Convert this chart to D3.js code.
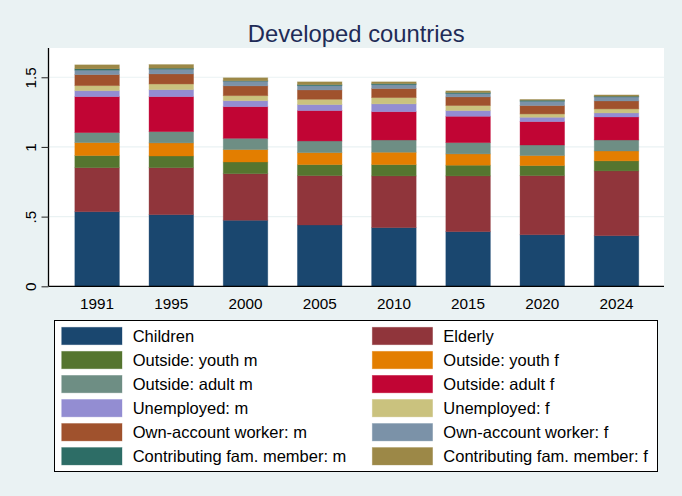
<!DOCTYPE html>
<html>
<head>
<meta charset="utf-8">
<script src="https://cdn.jsdelivr.net/npm/d3@7"></script>
<style>
html,body{margin:0;padding:0;background:#EAF2F3;}
svg{display:block;font-family:"Liberation Sans",Arial,Helvetica,sans-serif;}
</style>
</head>
<body>
<svg id="chart" width="682" height="496"></svg>
<script>
const years = ["1991","1995","2000","2005","2010","2015","2020","2024"];
const seriesNames = ["Children","Elderly","Outside: youth m","Outside: youth f","Outside: adult m","Outside: adult f","Unemployed: m","Unemployed: f","Own-account worker: m","Own-account worker: f","Contributing fam. member: m","Contributing fam. member: f"];
const seriesColors = ["#1a476f","#90353b","#55752f","#e37e00","#6e8e84","#c10534","#938dd2","#cac27e","#a0522d","#7b92a8","#2d6d66","#9c8847"];
const children   = [0.535,0.514,0.474,0.440,0.421,0.392,0.370,0.363];
const elderly    = [0.316,0.337,0.334,0.354,0.371,0.400,0.424,0.465];
const youthM     = [0.087,0.084,0.084,0.079,0.081,0.077,0.072,0.072];
const youthF     = [0.093,0.094,0.089,0.086,0.089,0.081,0.072,0.071];
const adultM     = [0.072,0.081,0.081,0.084,0.088,0.081,0.076,0.079];
const adultF     = [0.258,0.251,0.227,0.218,0.203,0.189,0.168,0.165];
const unempM     = [0.043,0.050,0.043,0.043,0.056,0.041,0.031,0.029];
const unempF     = [0.036,0.041,0.036,0.038,0.045,0.036,0.024,0.029];
const ownM       = [0.079,0.072,0.070,0.067,0.065,0.062,0.060,0.057];
const ownF       = [0.032,0.034,0.034,0.031,0.028,0.024,0.031,0.029];
const contribM   = [0.009,0.007,0.003,0.007,0.007,0.007,0.007,0.005];
const contribF   = [0.029,0.026,0.021,0.020,0.013,0.012,0.005,0.009];
const yTicks = [0, 0.5, 1, 1.5];
const yTickLabels = ["0", ".5", "1", "1.5"];
const title = "Developed countries";

const seriesValues = [children, elderly, youthM, youthF, adultM, adultF, unempM, unempF, ownM, ownF, contribM, contribF];

const table = years.map((y, i) => {
  const row = {year: y};
  seriesNames.forEach((s, k) => row[s] = seriesValues[k][i]);
  return row;
});

const svg = d3.select("#chart");
const plot = {left: 48.5, right: 664, top: 48, bottom: 286.3};

svg.append("rect").attr("x",0).attr("y",0).attr("width",682).attr("height",496).attr("fill","#EAF2F3");
svg.append("rect").attr("x",plot.left).attr("y",plot.top)
  .attr("width",plot.right-plot.left).attr("height",plot.bottom-plot.top).attr("fill","#ffffff");

const x = d3.scaleBand().domain(years).range([60.0, 653.6]).paddingInner(0.4).paddingOuter(0.2);
const y = d3.scaleLinear().domain([0, 1.71]).range([plot.bottom, plot.top]);

// gridlines
svg.append("g").selectAll("line").data(yTicks.filter(t => t > 0)).join("line")
  .attr("x1", plot.left).attr("x2", plot.right)
  .attr("y1", d => y(d)).attr("y2", d => y(d))
  .attr("stroke", "#EAF2F3").attr("stroke-width", 1.2);

// title
svg.append("text").attr("x", (plot.left+plot.right)/2).attr("y", 41.5)
  .attr("text-anchor","middle").attr("font-size", 23.8).attr("fill","#1e2b57").text(title);

// stacked bars
const stack = d3.stack().keys(seriesNames);
const stacked = stack(table);
const gBars = svg.append("g");
stacked.forEach((layer, k) => {
  gBars.append("g").selectAll("rect").data(layer).join("rect")
    .attr("x", d => x(d.data.year))
    .attr("width", x.bandwidth())
    .attr("y", d => y(d[1]))
    .attr("height", d => Math.max(0, y(d[0]) - y(d[1])))
    .attr("fill", seriesColors[k])
    .attr("stroke", seriesColors[k]).attr("stroke-opacity", 0.45).attr("stroke-width", 0.8);
});

// y axis
const yAxis = d3.axisLeft(y).tickValues(yTicks).tickFormat((d, i) => yTickLabels[i]).tickSize(7).tickPadding(6);
const gy = svg.append("g").attr("transform", `translate(${plot.left},0)`).call(yAxis);
gy.select(".domain").attr("stroke","#000").attr("stroke-width",1.3).attr("d", `M0,${plot.top}V${plot.bottom}`);
gy.selectAll(".tick line").attr("stroke","#333").attr("stroke-width",1.1);
gy.selectAll(".tick text")
  .attr("font-size", 15.3).attr("fill","#000").attr("font-family","Liberation Sans, Arial, sans-serif")
  .attr("text-anchor","middle").attr("dy", null).attr("x", null)
  .attr("transform", "translate(-12.5,0) rotate(-90)")
  .attr("dominant-baseline","auto");

// x axis
const xAxis = d3.axisBottom(x).tickSize(0).tickPadding(12);
const gx = svg.append("g").attr("transform", `translate(0,${plot.bottom})`).call(xAxis);
gx.select(".domain").attr("stroke","#000").attr("stroke-width",1.3).attr("d", `M${plot.left},0H${plot.right}`);
gx.selectAll(".tick text").attr("font-size", 15.3).attr("fill","#000").attr("font-family","Liberation Sans, Arial, sans-serif");

// legend
const leg = {x: 54.5, y: 320.5, w: 603, h: 151};
svg.append("rect").attr("x", leg.x).attr("y", leg.y).attr("width", leg.w).attr("height", leg.h)
  .attr("fill","#fff").attr("stroke","#000").attr("stroke-width",1);
const colX = [61.7, 372.3];
const rowY0 = 327.3, rowStep = 24.05, swW = 60.3, swH = 17.4;
const gLeg = svg.append("g");
seriesNames.forEach((s, k) => {
  const c = k % 2, r = Math.floor(k / 2);
  const yy = rowY0 + r * rowStep;
  gLeg.append("rect").attr("x", colX[c]).attr("y", yy).attr("width", swW).attr("height", swH)
    .attr("fill", seriesColors[k]).attr("stroke", seriesColors[k]).attr("stroke-opacity",0.45).attr("stroke-width",0.8);
  gLeg.append("text").attr("x", colX[c] + 71).attr("y", yy + swH/2 + 5.8)
    .attr("font-size", 16.5).attr("fill","#000").text(s);
});
</script>
</body>
</html>
